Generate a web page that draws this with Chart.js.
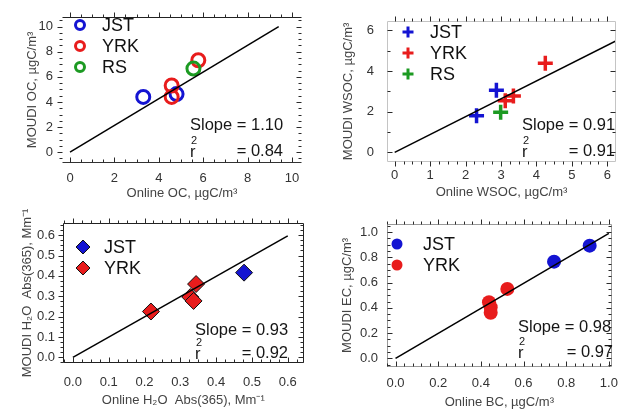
<!DOCTYPE html>
<html><head><meta charset="utf-8">
<script src="https://cdn.jsdelivr.net/npm/chart.js@4/dist/chart.umd.min.js"></script>
<style>
html,body{margin:0;padding:0;background:#fff;}
#wrap{position:relative;width:627px;height:414px;overflow:hidden;background:#fff;}
canvas{position:absolute;}
</style></head><body>
<div id="wrap">
<canvas id="c1" width="313" height="207" style="left:0;top:0"></canvas>
<canvas id="c2" width="314" height="207" style="left:313px;top:0"></canvas>
<canvas id="c3" width="313" height="207" style="left:0;top:207px"></canvas>
<canvas id="c4" width="314" height="207" style="left:313px;top:207px"></canvas>
</div>
<script>
// ---------- Panel 1: OC ----------
const ocJstX = [3.30, 4.80];
const ocJstY = [4.40, 4.63];
const ocYrkX = [4.58, 4.58, 5.78];
const ocYrkY = [5.31, 4.40, 7.32];
const ocRsX = [5.56];
const ocRsY = [6.66];
const ocFitX = [0, 9.4];
const ocFitY = [0, 10.0];
const ocXTicks = [0, 2, 4, 6, 8, 10];
const ocYTicks = [0, 2, 4, 6, 8, 10];
const ocStats = ['1.10', '0.84'];

// ---------- Panel 2: WSOC ----------
const wsJstX = [2.31, 2.87];
const wsJstY = [1.80, 3.06];
const wsYrkX = [4.25, 3.35, 3.12];
const wsYrkY = [4.38, 2.77, 2.54];
const wsRsX = [2.99];
const wsRsY = [1.98];
const wsFitX = [0, 6.24];
const wsFitY = [0, 5.48];
const wsXTicks = [0, 1, 2, 3, 4, 5, 6];
const wsYTicks = [0, 2, 4, 6];
const wsStats = ['0.91', '0.91'];

// ---------- Panel 3: H2O Abs(365) ----------
const abJstX = [0.478];
const abJstY = [0.416];
const abYrkX = [0.218, 0.328, 0.337, 0.344];
const abYrkY = [0.225, 0.296, 0.277, 0.360];
const abFitX = [0, 0.6];
const abFitY = [0, 0.597];
const abXTicks = [0.0, 0.1, 0.2, 0.3, 0.4, 0.5, 0.6];
const abYTicks = [0.0, 0.1, 0.2, 0.3, 0.4, 0.5, 0.6];
const abStats = ['0.93', '0.92'];

// ---------- Panel 4: EC vs BC ----------
const ecJstX = [0.743, 0.910];
const ecJstY = [0.766, 0.893];
const ecYrkX = [0.524, 0.438, 0.446, 0.446];
const ecYrkY = [0.550, 0.445, 0.405, 0.361];
const ecFitX = [0, 1.0];
const ecFitY = [0, 0.99];
const ecXTicks = [0.0, 0.2, 0.4, 0.6, 0.8, 1.0];
const ecYTicks = [0.0, 0.2, 0.4, 0.6, 0.8, 1.0];
const ecStats = ['0.98', '0.97'];

const F = "'Liberation Sans', Arial, Helvetica, sans-serif";
const BLUE = '#1414d2', RED = '#e81c1c', GREEN = '#1c9a22';
const pts = (xs, ys) => xs.map((v, i) => ({x: v, y: ys[i]}));

const frameTicks = {
  id: 'frameTicks',
  afterDraw(chart, args, o) {
    const {ctx, chartArea: a, scales: {x, y}} = chart;
    ctx.save();
    ctx.lineWidth = 1;
    const line = (x1, y1, x2, y2, c) => { ctx.strokeStyle = c; ctx.beginPath(); ctx.moveTo(x1, y1); ctx.lineTo(x2, y2); ctx.stroke(); };
    const L = Math.round(a.left) + 0.5, R = Math.round(a.right) - 0.5, T = Math.round(a.top) + 0.5, B = Math.round(a.bottom) - 0.5;
    const s = o.sides;
    if (s.top) line(L, T, R, T, s.top);
    if (s.bottom) line(L, B, R, B, s.bottom);
    if (s.left) line(L, T, L, B, s.left);
    if (s.right) line(R, T, R, B, s.right);
    const set = (scale, major, step) => {
      const out = major.map(v => [v, 5]);
      if (step) {
        for (let k = Math.ceil(scale.min / step - 1e-9); k * step <= scale.max + 1e-9; k++) {
          const v = k * step;
          if (!major.some(m => Math.abs(m - v) < 1e-6)) out.push([v, 3]);
        }
      }
      return out;
    };
    const tc = o.tickColor;
    set(x, o.majorX, o.minorX).forEach(([v, len]) => {
      const p = Math.round(x.getPixelForValue(v)) + 0.5;
      line(p, T, p, o.dir.top === 'out' ? T - len : T + len, tc);
      line(p, B, p, o.dir.bottom === 'out' ? B + len : B - len, tc);
    });
    set(y, o.majorY, o.minorY).forEach(([v, len]) => {
      const p = Math.round(y.getPixelForValue(v)) + 0.5;
      line(L, p, o.dir.left === 'out' ? L - len : L + len, p, tc);
      line(R, p, o.dir.right === 'out' ? R + len : R - len, p, tc);
    });
    ctx.restore();
  }
};

function drawMarker(ctx, st, x, y) {
  ctx.save();
  ctx.lineWidth = st.bw;
  ctx.strokeStyle = st.stroke;
  ctx.fillStyle = st.fill;
  Chart.helpers.drawPoint(ctx, {pointStyle: st.style, radius: st.r, borderWidth: st.bw, rotation: 0}, x, y);
  ctx.restore();
}

const keyNotes = {
  id: 'keyNotes',
  afterDraw(chart, args, o) {
    const ctx = chart.ctx;
    ctx.save();
    // legend
    let i = 0;
    chart.data.datasets.forEach(ds => {
      if (!ds.key) return;
      const yy = o.key.y + i * o.key.dy;
      drawMarker(ctx, {style: ds.pointStyle, r: ds.key.r, bw: ds.key.bw, stroke: ds.pointBorderColor, fill: ds.pointBackgroundColor}, o.key.x, yy);
      ctx.fillStyle = '#111';
      ctx.font = '18px ' + F;
      ctx.textAlign = 'left';
      ctx.textBaseline = 'middle';
      ctx.fillText(ds.label, o.key.tx, yy + 1);
      i++;
    });
    // slope / r2
    const st = o.stats;
    ctx.fillStyle = '#161616';
    ctx.font = '16.5px ' + F;
    ctx.textBaseline = 'middle';
    ctx.textAlign = 'left';
    ctx.fillText('Slope = ' + st.vals[0], st.lx, st.y1);
    ctx.fillText('r', st.lx, st.y2 + 1);
    ctx.font = '11px ' + F;
    ctx.fillText('2', st.lx + 1, st.y2 - 10);
    ctx.font = '16.5px ' + F;
    ctx.textAlign = 'right';
    ctx.fillText('= ' + st.vals[1], st.rx, st.y2);
    ctx.restore();
  }
};

function makeChart(p) {
  const datasets = [{
    type: 'line', label: 'fit', data: pts(p.fit[0], p.fit[1]),
    borderColor: '#000', borderWidth: 1.5, pointRadius: 0, showLine: true, fill: false, order: 0
  }];
  p.series.forEach((s, i) => {
    datasets.push({
      label: s.label, data: pts(s.x, s.y),
      pointStyle: s.style, pointRadius: s.r, pointBorderWidth: s.bw,
      pointBorderColor: s.stroke, pointBackgroundColor: s.fill,
      borderColor: s.stroke, backgroundColor: s.fill,
      showLine: false, order: 10 - i, key: {r: s.keyR, bw: s.keyBw}
    });
  });
  const tickFont = {family: F, size: 13};
  return new Chart(document.getElementById(p.id), {
    type: 'scatter',
    data: {datasets},
    options: {
      responsive: false, animation: false, devicePixelRatio: 1,
      layout: {padding: {left: 0, top: p.padT, right: p.padR, bottom: 0}},
      plugins: {
        legend: {display: false}, tooltip: {enabled: false},
        frameTicks: {sides: p.sides, dir: p.dir, tickColor: '#2a2a2a', majorX: p.xTicks, majorY: p.yMajor || p.yTicks, minorX: p.minorX, minorY: p.minorY},
        keyNotes: {key: p.key, stats: p.stats}
      },
      scales: {
        x: {
          type: 'linear', bounds: 'data', min: p.xMin, max: p.xMax,
          afterBuildTicks: s => { s.ticks = p.xTicks.map(v => ({value: v})); },
          afterFit: s => { s.height = p.xH; },
          grid: {display: false, drawTicks: false}, border: {display: false},
          ticks: {padding: p.xTickPad, color: '#333', font: tickFont, maxRotation: 0, autoSkip: false, callback: v => p.fmt(v)},
          title: {display: true, text: p.xTitle, color: '#444', font: tickFont, padding: {top: 0, bottom: p.xTitlePad}}
        },
        y: {
          type: 'linear', bounds: 'data', min: p.yMin, max: p.yMax,
          afterBuildTicks: s => { s.ticks = p.yTicks.map(v => ({value: v})); },
          afterFit: s => { s.width = p.yW; },
          grid: {display: false, drawTicks: false}, border: {display: false},
          ticks: {padding: p.yTickPad, color: '#333', font: tickFont, autoSkip: false, callback: v => p.fmt(v)},
          title: {display: true, text: p.yTitle, color: '#444', font: tickFont, padding: {top: p.yTitlePad, bottom: 0}}
        }
      }
    },
    plugins: [frameTicks, keyNotes]
  });
}

const intFmt = v => String(Math.round(v));
const decFmt = v => v.toFixed(1);
const open = 'rgba(0,0,0,0)';

makeChart({
  id: 'c1', xTitle: 'Online OC, µgC/m³', yTitle: 'MOUDI OC, µgC/m³',
  xMin: -0.36, xMax: 10.45, yMin: -0.86, yMax: 10.78, xTicks: ocXTicks, yTicks: ocYTicks, fmt: intFmt,
  minorX: 0.5, minorY: 0.5,
  padT: 14, padR: 11, yW: 62, xH: 44, yTitlePad: 24.2, yTickPad: 9, xTickPad: 8, xTitlePad: 6.2,
  sides: {top: '#222', bottom: '#333'}, dir: {top: 'out', bottom: 'in', left: 'out', right: 'in'},
  series: [
    {label: 'JST', x: ocJstX, y: ocJstY, style: 'circle', r: 6.5, bw: 3, stroke: BLUE, fill: open, keyR: 4.5, keyBw: 3},
    {label: 'YRK', x: ocYrkX, y: ocYrkY, style: 'circle', r: 6.5, bw: 3, stroke: RED, fill: open, keyR: 4.5, keyBw: 3},
    {label: 'RS', x: ocRsX, y: ocRsY, style: 'circle', r: 6.5, bw: 3, stroke: GREEN, fill: open, keyR: 4.5, keyBw: 3}
  ],
  fit: [ocFitX, ocFitY],
  key: {x: 80, y: 25, dy: 21, tx: 102},
  stats: {vals: ocStats, lx: 190, rx: 283, y1: 125, y2: 151}
});

makeChart({
  id: 'c2', xTitle: 'Online WSOC, µgC/m³', yTitle: 'MOUDI WSOC, µgC/m³',
  xMin: -0.217, xMax: 6.245, yMin: -0.47, yMax: 6.47, xTicks: wsXTicks, yTicks: wsYTicks, fmt: intFmt,
  minorX: 0.25, minorY: 1,
  padT: 15, padR: 2, yW: 74, xH: 45, yTitlePad: 27.2, yTickPad: 13, xTickPad: 6, xTitlePad: 7.2,
  sides: {top: '#c4c4c4', bottom: '#c4c4c4', left: '#c4c4c4', right: '#c4c4c4'}, dir: {top: 'out', bottom: 'out', left: 'in', right: 'in'},
  series: [
    {label: 'JST', x: wsJstX, y: wsJstY, style: 'cross', r: 7.5, bw: 3.5, stroke: BLUE, fill: open, keyR: 5.5, keyBw: 3},
    {label: 'YRK', x: wsYrkX, y: wsYrkY, style: 'cross', r: 7.5, bw: 3.5, stroke: RED, fill: open, keyR: 5.5, keyBw: 3},
    {label: 'RS', x: wsRsX, y: wsRsY, style: 'cross', r: 7.5, bw: 3.5, stroke: GREEN, fill: open, keyR: 5.5, keyBw: 3}
  ],
  fit: [wsFitX, wsFitY],
  key: {x: 95, y: 32, dy: 21, tx: 117},
  stats: {vals: wsStats, lx: 209, rx: 302, y1: 125, y2: 151}
});

makeChart({
  id: 'c3', xTitle: 'Online H₂O  Abs(365), Mm⁻¹', yTitle: 'MOUDI H₂O  Abs(365), Mm⁻¹',
  xMin: -0.0276, xMax: 0.644, yMin: -0.028, yMax: 0.661, xTicks: abXTicks, yTicks: abYTicks, fmt: decFmt,
  minorX: 0.025, minorY: 0.025,
  padT: 10, padR: 7, yW: 63, xH: 51, yTitlePad: 19.2, yTickPad: 8, xTickPad: 12, xTitlePad: 6.2,
  sides: {top: '#222', bottom: '#222', left: '#222', right: '#222'}, dir: {top: 'out', bottom: 'in', left: 'out', right: 'in'},
  series: [
    {label: 'JST', x: abJstX, y: abJstY, style: 'rectRot', r: 8.5, bw: 1, stroke: '#111', fill: BLUE, keyR: 7, keyBw: 1},
    {label: 'YRK', x: abYrkX, y: abYrkY, style: 'rectRot', r: 8.5, bw: 1, stroke: '#111', fill: RED, keyR: 7, keyBw: 1}
  ],
  fit: [abFitX, abFitY],
  key: {x: 83, y: 40, dy: 21, tx: 104},
  stats: {vals: abStats, lx: 195, rx: 288, y1: 123, y2: 146}
});

makeChart({
  id: 'c4', xTitle: 'Online BC, µgC/m³', yTitle: 'MOUDI EC, µgC/m³',
  xMin: -0.04, xMax: 1.013, yMin: -0.069, yMax: 1.066, xTicks: ecXTicks, yTicks: ecYTicks, fmt: decFmt,
  minorX: 0.04, minorY: 0.05,
  padT: 16, padR: 2, yW: 74, xH: 47, yTitlePad: 26.2, yTickPad: 9, xTickPad: 9, xTitlePad: 4.2,
  sides: {top: '#9a9a9a', bottom: '#9a9a9a', left: '#9a9a9a', right: '#9a9a9a'}, dir: {top: 'out', bottom: 'in', left: 'in', right: 'in'},
  series: [
    {label: 'JST', x: ecJstX, y: ecJstY, style: 'circle', r: 7, bw: 0, stroke: BLUE, fill: BLUE, keyR: 5.5, keyBw: 0},
    {label: 'YRK', x: ecYrkX, y: ecYrkY, style: 'circle', r: 7, bw: 0, stroke: RED, fill: RED, keyR: 5.5, keyBw: 0}
  ],
  fit: [ecFitX, ecFitY],
  key: {x: 84, y: 37, dy: 21, tx: 110},
  stats: {vals: ecStats, lx: 205, rx: 300, y1: 120, y2: 145}
});
</script>
</body></html>
